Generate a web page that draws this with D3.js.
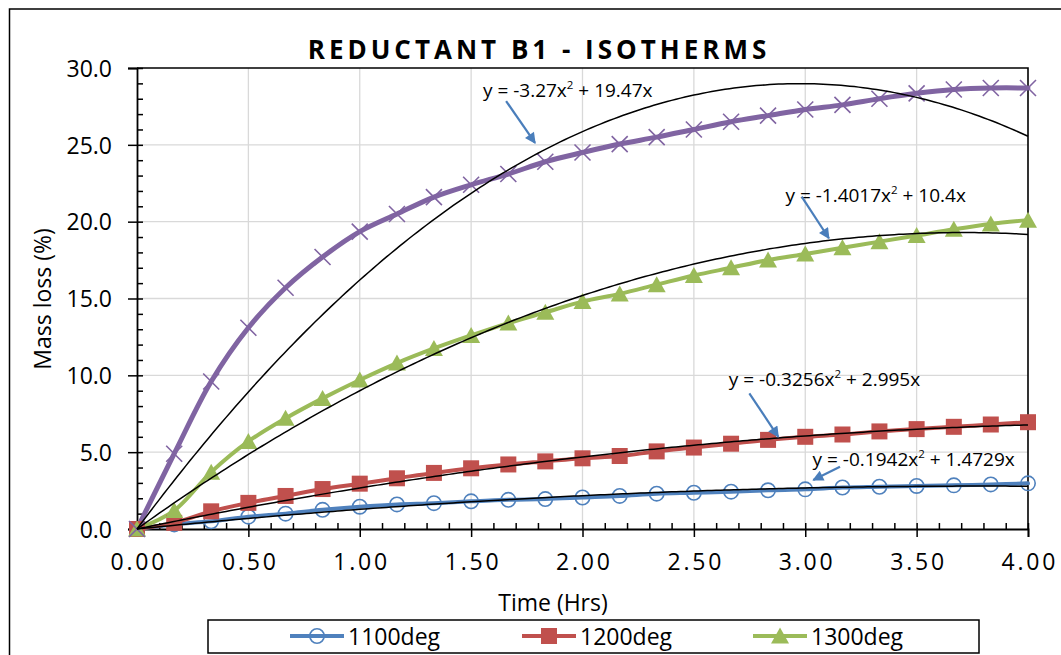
<!DOCTYPE html>
<html><head><meta charset="utf-8">
<script src="https://cdn.jsdelivr.net/npm/d3@7"></script>
<style>body{margin:0;background:#fff;overflow:hidden} svg{display:block;font-family:"Open Sans",sans-serif}</style>
</head><body>
<svg id="c" width="1061" height="655"></svg>
<script>
// ---------------- data ----------------
const timeHrs = [0, 0.167, 0.333, 0.5, 0.667, 0.833, 1.0, 1.167, 1.333, 1.5, 1.667, 1.833, 2.0,
                 2.167, 2.333, 2.5, 2.667, 2.833, 3.0, 3.167, 3.333, 3.5, 3.667, 3.833, 4.0];
const loss1100 = [0, 0.3, 0.5, 0.8, 1.0, 1.25, 1.45, 1.6, 1.68, 1.8, 1.9, 1.95, 2.05,
                  2.15, 2.3, 2.36, 2.43, 2.52, 2.58, 2.7, 2.75, 2.8, 2.84, 2.9, 2.97];
const loss1200 = [0, 0.4, 1.15, 1.7, 2.15, 2.6, 2.95, 3.3, 3.65, 3.95, 4.2, 4.4, 4.6,
                  4.75, 5.05, 5.3, 5.55, 5.8, 6.0, 6.15, 6.35, 6.5, 6.65, 6.8, 6.95];
const loss1300 = [0, 1.2, 3.7, 5.7, 7.2, 8.5, 9.7, 10.8, 11.75, 12.6, 13.4, 14.1, 14.8,
                  15.3, 15.9, 16.5, 17.0, 17.5, 17.9, 18.3, 18.7, 19.1, 19.5, 19.85, 20.1];
const loss1400 = [0, 4.9, 9.6, 13.1, 15.7, 17.7, 19.35, 20.5, 21.6, 22.4, 23.1, 23.9, 24.5,
                  25.05, 25.5, 26.0, 26.5, 26.9, 27.3, 27.6, 28.0, 28.35, 28.6, 28.7, 28.7];
const seriesNames = ["1100deg", "1200deg", "1300deg", "1400deg"];
const inLegend = [true, true, true, false];
// quadratic trendlines through origin: y = a x^2 + b x
const trendA = [-0.1942, -0.3256, -1.4017, -3.27];
const trendB = [1.4729, 2.995, 10.4, 19.47];
const trendLabelA = ["-0.1942", "-0.3256", "-1.4017", "-3.27"];
const trendLabelB = ["1.4729", "2.995", "10.4", "19.47"];
const xTicks = [0, 0.5, 1, 1.5, 2, 2.5, 3, 3.5, 4];
const yTicks = [0, 5, 10, 15, 20, 25, 30];
const title = "REDUCTANT B1 - ISOTHERMS";
const xTitle = "Time (Hrs)";
const yTitle = "Mass loss (%)";

// ---------------- layout / style ----------------
const colors = ["#4f81bd", "#c0504d", "#9bbb59", "#8064a2"];
const lineW = [4, 4, 4, 5];
// annotation placements in data coordinates: [labelT, labelV, arrowFromT, arrowFromV, arrowToT, arrowToV]
const annotPos = [
  [3.033, 4.12, 3.156, 4.05, 3.036, 3.19],
  [2.657, 9.31, 2.749, 8.83, 2.879, 6.0],
  [2.911, 21.3, 2.984, 21.63, 3.106, 18.92],
  [1.553, 28.11, 1.657, 27.85, 1.787, 25.12]
];

const svg = d3.select("#c");
const x = d3.scaleLinear().domain([0, 4]).range([137, 1028]);
const y = d3.scaleLinear().domain([0, 30]).range([529, 68]);

// outer chart frame (extends beyond picture right/bottom)
svg.append("rect").attr("x", 9.5).attr("y", 9).attr("width", 1100).attr("height", 700)
  .attr("fill", "none").attr("stroke", "#000").attr("stroke-width", 1.5);

// gridlines
const grid = svg.append("g").attr("stroke", "#d9d9d9").attr("stroke-width", 1.3);
yTicks.filter(v => v > 0 && v < 30).forEach(v => grid.append("line")
  .attr("x1", x(0)).attr("x2", x(4)).attr("y1", y(v)).attr("y2", y(v)));
xTicks.filter(v => v > 0 && v < 4).forEach(v => grid.append("line")
  .attr("x1", x(v)).attr("x2", x(v)).attr("y1", y(0)).attr("y2", y(30)));

// plot border top/right
svg.append("path").attr("d", `M${x(0)},${y(30)}H${x(4)}V${y(0)}`)
  .attr("fill", "none").attr("stroke", "#000").attr("stroke-width", 1.6);

// axes
const yAxis = d3.axisLeft(y).tickValues(yTicks).tickSize(9).tickFormat(d3.format(".1f"));
const gy = svg.append("g").attr("transform", `translate(${x(0)},0)`).call(yAxis);
const yMinor = d3.axisRight(y).ticks(30).tickSize(6).tickFormat("");
svg.append("g").attr("transform", `translate(${x(0)},0)`).call(yMinor)
  .call(g => g.select(".domain").remove());
const xAxis = d3.axisBottom(x).tickValues(xTicks).tickSize(8).tickFormat(d3.format(".2f"));
const gx = svg.append("g").attr("transform", `translate(0,${y(0)})`).call(xAxis);
const xMinor = d3.axisTop(x).ticks(40).tickSize(6).tickFormat("");
svg.append("g").attr("transform", `translate(0,${y(0)})`).call(xMinor)
  .call(g => g.select(".domain").remove());
svg.selectAll(".domain").attr("stroke", "#000").attr("stroke-width", 1.8);
svg.selectAll(".tick line").attr("stroke", "#000").attr("stroke-width", 1.5);
gy.selectAll(".tick text").attr("font-size", 23).attr("font-family", "Open Sans")
  .attr("fill", "#000").attr("x", -25).attr("dy", null).attr("y", 8.2);
gx.selectAll(".tick text").attr("font-size", 23).attr("font-family", "Open Sans")
  .attr("fill", "#000").attr("letter-spacing", 2.8).attr("dx", 1.4).attr("y", 43 - 18).attr("dy", "0.71em");

// series lines
const allSeries = [loss1100, loss1200, loss1300, loss1400];
const line = d3.line().x(d => x(d[0])).y(d => y(d[1])).curve(d3.curveCatmullRom.alpha(0.5));
allSeries.forEach((s, i) => {
  svg.append("path").datum(timeHrs.map((t, k) => [t, s[k]]))
    .attr("d", line).attr("fill", "none").attr("stroke", colors[i])
    .attr("stroke-width", lineW[i]).attr("stroke-linejoin", "round").attr("stroke-linecap", "round");
});

// markers
function marker(g, type, color) {
  if (type === 0) g.append("circle").attr("r", 7.2).attr("fill", "none").attr("stroke", color).attr("stroke-width", 1.6);
  else if (type === 1) g.append("rect").attr("x", -8).attr("y", -8).attr("width", 16).attr("height", 16).attr("fill", color);
  else if (type === 2) g.append("path").attr("d", "M0,-8.5L9,7.5L-9,7.5Z").attr("fill", color);
  else g.append("path").attr("d", "M-8,-8L8,8M-8,8L8,-8").attr("stroke", color).attr("stroke-width", 1.6).attr("fill", "none");
}
allSeries.forEach((s, i) => {
  timeHrs.forEach((t, k) => {
    const g = svg.append("g").attr("transform", `translate(${x(t)},${y(s[k])})`);
    marker(g, i, colors[i]);
  });
});

// trendlines
const tSamples = d3.range(0, 4.0001, 0.02);
trendA.forEach((a, i) => {
  const b = trendB[i];
  svg.append("path").datum(tSamples.map(t => [t, a * t * t + b * t]))
    .attr("d", d3.line().x(d => x(d[0])).y(d => y(d[1])))
    .attr("fill", "none").attr("stroke", "#000").attr("stroke-width", 1.5);
});

// trendline labels + arrows
svg.append("defs").append("marker").attr("id", "ah").attr("viewBox", "0 0 10 10")
  .attr("refX", 9).attr("refY", 5).attr("markerWidth", 6).attr("markerHeight", 5)
  .attr("markerUnits", "strokeWidth").attr("orient", "auto")
  .append("path").attr("d", "M0,0L10,5L0,10Z").attr("fill", "#4a7ebb");
annotPos.forEach((p, i) => {
  const t = svg.append("text").attr("x", x(p[0])).attr("y", y(p[1]))
    .attr("font-size", 19).attr("fill", "#000");
  t.append("tspan").text(`y = ${trendLabelA[i]}x`);
  t.append("tspan").text("2").attr("font-size", 11.5).attr("dy", -8);
  t.append("tspan").text(` + ${trendLabelB[i]}x`).attr("dy", 8);
  svg.append("line").attr("x1", x(p[2])).attr("y1", y(p[3])).attr("x2", x(p[4])).attr("y2", y(p[5]))
    .attr("stroke", "#4a7ebb").attr("stroke-width", 2.2).attr("marker-end", "url(#ah)");
});

// titles
svg.append("text").attr("x", 537).attr("y", 59).attr("text-anchor", "middle")
  .attr("font-size", 26).attr("font-weight", "bold").attr("letter-spacing", 4).attr("dx", 2)
  .text(title);
svg.append("text").attr("x", 553).attr("y", 611).attr("text-anchor", "middle")
  .attr("font-size", 23).text(xTitle);
svg.append("text").attr("transform", "translate(51,299) rotate(-90)").attr("text-anchor", "middle")
  .attr("font-size", 23).text(yTitle);

// legend
svg.append("rect").attr("x", 208).attr("y", 620).attr("width", 771).attr("height", 33)
  .attr("fill", "#fff").attr("stroke", "#000").attr("stroke-width", 1.5);
const legX = [290, 522, 753];
seriesNames.forEach((n, i) => {
  if (!inLegend[i]) return;
  const lx = legX[i];
  svg.append("line").attr("x1", lx).attr("x2", lx + 54).attr("y1", 636).attr("y2", 636)
    .attr("stroke", colors[i]).attr("stroke-width", 4);
  marker(svg.append("g").attr("transform", `translate(${lx + 27},636)`), i, colors[i]);
  svg.append("text").attr("x", lx + 58).attr("y", 645).attr("font-size", 23).text(n);
});
</script>
</body></html>
